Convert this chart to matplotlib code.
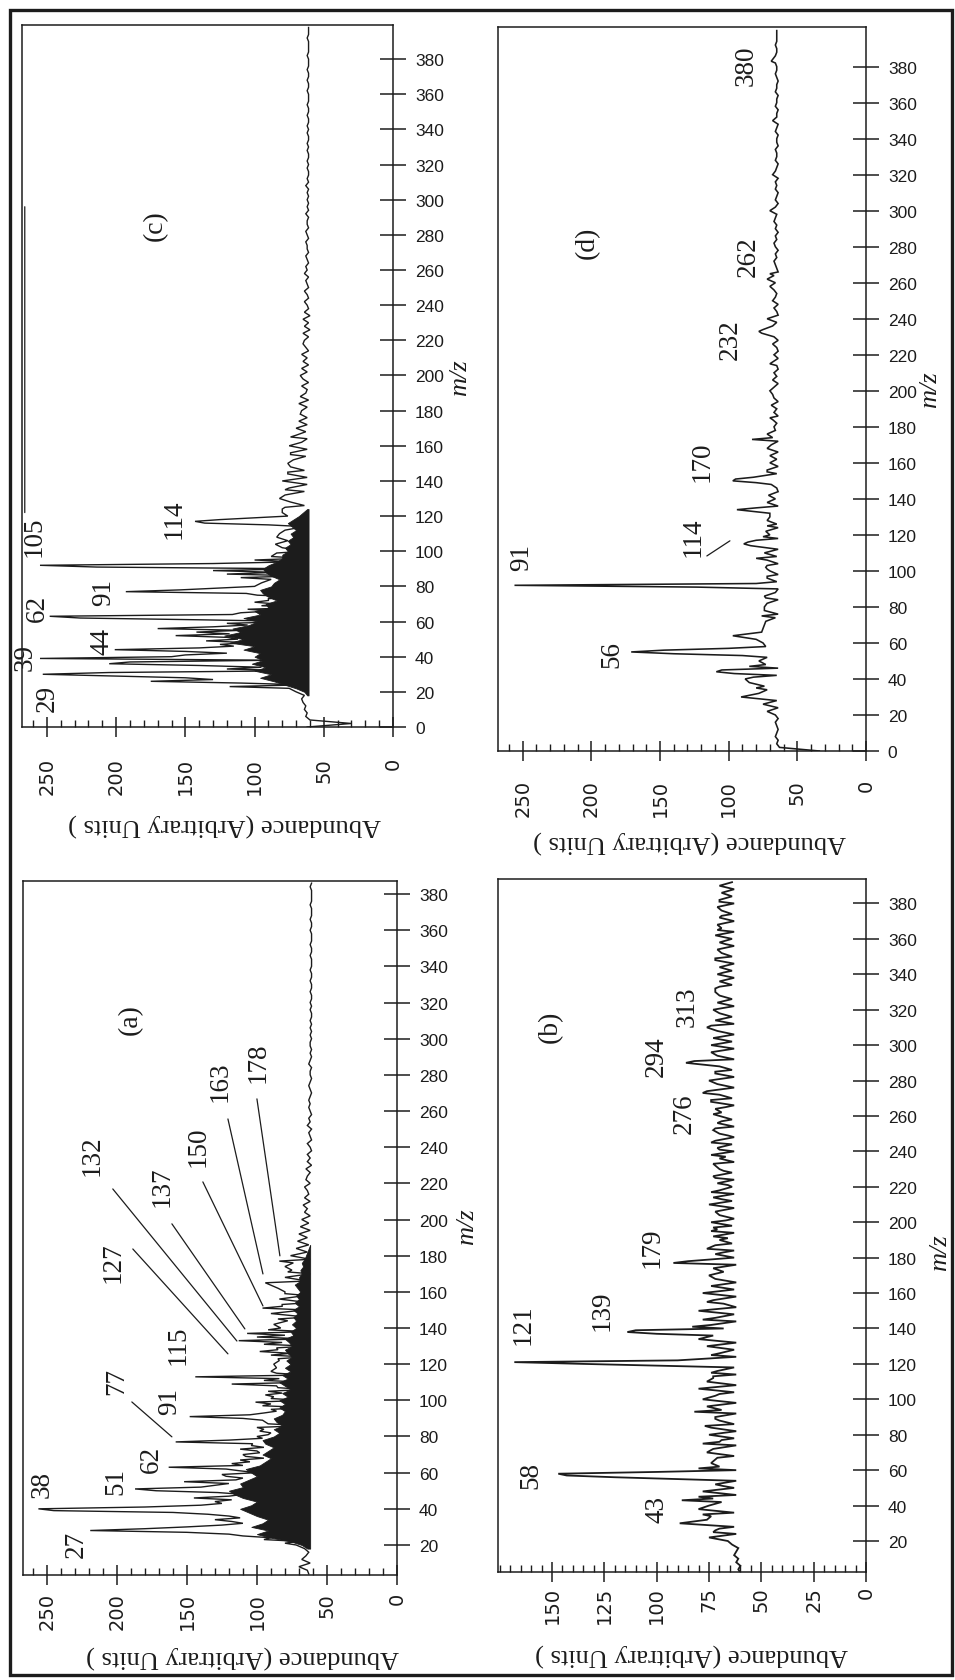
import numpy as np
import matplotlib
matplotlib.use("Agg")
import matplotlib.pyplot as plt
from matplotlib.ticker import MultipleLocator
from matplotlib.patches import Rectangle

# ---------------- data ----------------
# baseline (noise) abundances sampled every 2 m/z units
c_noise_start = 0
c_noise = [62, 30, 60, 63, 62, 64, 63, 65, 66, 64,
           70, 75, 64, 82, 66, 88, 70, 95, 68, 86, 64, 92, 70, 96, 66, 80, 62, 90, 70, 98,
           66, 92, 64, 88, 62, 84, 90, 66, 70, 88, 64, 80, 92, 66, 84, 64, 94, 70, 66, 86,
           64, 80, 62, 76, 84, 62, 78, 64, 82, 66, 76, 62, 80, 64, 74, 62, 78, 64, 75, 62,
           72, 62, 76, 64, 74, 62, 72, 63, 74, 62, 70, 66, 62, 70, 63, 72, 62, 68, 62, 67,
           66, 62, 68, 61, 67, 63, 62, 66, 61, 65, 67, 62, 66, 61, 65, 62, 66, 61, 63, 65,
           64, 61, 65, 60, 64, 61, 65, 60, 64, 61, 62, 64, 61, 62, 64, 61, 62, 63, 61, 64,
           62, 63, 61, 62, 63, 61, 62, 62, 63, 61, 62, 63, 61, 62, 62, 61, 63, 61, 62, 61,
           62, 61, 62, 61, 63, 61, 62, 61, 61, 62, 61, 62, 61, 61, 62, 61, 62, 61, 61, 62,
           61, 62, 61, 61, 62, 61, 61, 62, 61, 61, 61, 62, 61, 61, 62, 61, 61, 62, 61, 61,
           61, 62, 61, 61, 61, 61, 62, 61, 61, 61]
c_peak_mz = [23, 25, 26, 27, 28, 30, 31, 33, 35, 36, 37, 39, 40, 41, 42, 43, 44, 45, 46, 47, 48, 49,
             50, 51, 52, 53, 54, 55, 56, 57, 58, 59, 61, 62, 63, 64, 65, 67, 69, 71, 73, 75,
             76, 77, 78, 80, 82, 84, 85, 87, 89, 91, 92, 93, 95, 97, 99, 104, 107, 110,
             115, 116, 117, 118, 122, 125, 130, 135, 140, 145, 150, 155, 160, 165, 170]
c_peak_ab = [118, 110, 175, 130, 150, 253, 205, 120, 140, 205, 190, 255, 160, 150, 120, 150, 201, 140, 115, 125, 105, 135,
             112, 120, 157, 118, 142, 110, 170, 130, 105, 120, 140, 226, 248, 116, 110, 105, 95, 100, 90, 98,
             106, 193, 154, 100, 95, 88, 110, 120, 130, 214, 255, 130, 100, 88, 84, 85, 80, 82,
             90, 136, 143, 125, 80, 78, 82, 78, 80, 76, 76, 74, 75, 74, 70]
# envelope of the dense (unresolved) low-mass region, every 2 m/z units
c_env_start = 18
c_env = [62, 64, 70, 78, 86, 96, 88, 100, 92, 102, 94, 100, 96, 108, 100, 118, 108, 122, 110, 116,
         104, 98, 108, 96, 100, 90, 92, 84, 90, 94, 96, 88, 86, 82, 88, 92, 94, 90, 84, 80,
         80, 76, 78, 74, 76, 72, 74, 70, 73, 76, 72, 68, 65, 62]
c_floor = 61

a_noise_start = 4
a_noise = [63, 64, 70, 62, 68, 65, 63, 66, 72, 70,
           90, 70, 95, 72, 100, 75, 88, 105, 70, 110, 76, 100, 72, 98, 74, 105, 70, 95, 100, 72,
           95, 70, 100, 72, 92, 68, 98, 70, 90, 68, 95, 66, 88, 92, 66, 86, 64, 90, 68, 80,
           82, 66, 86, 64, 84, 66, 82, 88, 64, 84, 66, 76, 85, 64, 82, 66, 80, 64, 83, 66,
           78, 64, 80, 66, 82, 63, 78, 65, 80, 63, 76, 64, 79, 62, 75, 64, 74, 62, 73, 64,
           72, 63, 71, 64, 70, 62, 69, 63, 68, 62, 66, 64, 67, 62, 66, 63, 64, 66, 62, 65,
           64, 62, 65, 61, 64, 62, 64, 61, 62, 64, 61, 62, 63, 61, 64, 62, 63, 61, 62, 63,
           62, 63, 62, 61, 62, 63, 62, 61, 62, 62, 61, 63, 62, 61, 62, 61, 62, 62, 61, 62,
           61, 62, 61, 62, 61, 61, 62, 61, 62, 61, 61, 62, 61, 61, 62, 61, 61, 62, 61, 61,
           61, 62, 61, 61, 62, 61, 61, 61, 62, 61, 61, 62, 61, 61, 61, 62, 61, 61, 61, 61, 62, 61]
a_peak_mz = [21, 23, 25, 26, 27, 28, 29, 30, 31, 32, 33, 34, 35, 36, 37, 38, 39, 40, 41, 42, 43, 44, 45, 46, 47, 48, 49,
             50, 51, 52, 53, 54, 55, 56, 57, 58, 59, 60, 61, 62, 63, 64, 65, 66, 67, 68, 69, 70, 71, 72, 73, 74, 75,
             76, 77, 78, 79, 80, 81, 82, 83, 85, 87, 88, 89, 90, 91, 92, 93, 95, 97, 99, 101, 102, 103, 105, 107,
             109, 111, 113, 115, 116, 118, 120, 123, 125, 127, 129, 131, 133, 135, 137, 139,
             142, 145, 148, 151, 153, 156, 159, 162, 164, 165, 168, 171, 174, 177, 180]
a_peak_ab = [80, 95, 110, 120, 150, 219, 180, 150, 125, 110, 118, 130, 112, 120, 135, 160, 245, 256, 180, 140, 125, 130, 118, 145, 120, 110, 128,
             172, 187, 140, 130, 120, 152, 115, 110, 122, 125, 100, 112, 122, 163, 110, 118, 105, 112, 95, 108, 110, 98, 100, 112, 95, 104,
             103, 158, 120, 96, 100, 92, 90, 98, 100, 92, 94, 96, 110, 148, 105, 95, 90, 96, 101, 90, 88, 94, 92, 85,
             118, 95, 144, 86, 90, 86, 88, 85, 90, 98, 86, 95, 113, 100, 107, 92,
             88, 85, 90, 96, 82, 84, 80, 85, 91, 94, 80, 78, 80, 84, 76]
a_env_start = 18
a_env = [64, 68, 76, 90, 100, 92, 104, 96, 92, 100, 106, 112, 104, 100, 110, 116, 120, 110, 112, 106,
         100, 104, 108, 98, 94, 90, 96, 92, 88, 94, 96, 88, 84, 88, 82, 86, 88, 82, 80, 84,
         80, 84, 78, 82, 76, 80, 84, 78, 82, 76, 80, 76, 79, 75, 78, 80, 75, 77, 80, 74,
         76, 72, 75, 72, 74, 71, 74, 70, 73, 70, 72, 69, 71, 73, 69, 70, 68, 69, 67, 68,
         66, 65, 64, 63, 62]
a_floor = 62

d_noise_start = 0
d_noise = [34, 63, 65, 64, 66, 65, 64, 65, 66, 64,
           66, 72, 64, 73, 65, 75, 64, 72, 74, 64, 73, 65, 75, 64, 73, 65, 72, 75, 64, 73,
           72, 64, 74, 65, 75, 64, 73, 66, 64, 74, 65, 72, 64, 74, 66, 64, 73, 65, 72, 64,
           70, 73, 64, 72, 65, 73, 64, 75, 71, 64, 70, 73, 64, 65, 72, 64, 70, 72, 64, 70,
           66, 71, 64, 65, 69, 64, 70, 65, 72, 64, 68, 65, 70, 64, 66, 69, 64, 68, 65, 66,
           67, 65, 68, 64, 67, 65, 69, 64, 67, 68, 65, 67, 64, 68, 65, 67, 64, 65, 68, 64,
           67, 64, 65, 68, 64, 67, 65, 64, 68, 65, 67, 64, 65, 67, 64, 68, 66, 65, 67, 64,
           66, 65, 67, 64, 65, 66, 67, 65, 66, 64, 66, 67, 65, 66, 64, 66, 65, 67, 66, 65,
           65, 66, 64, 66, 65, 64, 66, 65, 66, 64, 65, 66, 65, 64, 66, 65, 65, 66, 64, 65,
           65, 64, 66, 65, 64, 66, 65, 65, 64, 66, 65, 65, 64, 66, 65, 65, 64, 65, 66, 65,
           65, 66, 65, 66, 65, 65, 66, 65, 65, 65, 65]
d_peak_mz = [26, 30, 32, 35, 38, 40, 41, 43, 44, 45, 47, 50, 53, 54, 55, 56, 57, 60, 62, 64, 66, 70, 75, 80, 85,
             91, 92, 93, 97, 101, 103, 107, 110, 114, 115, 116, 117, 119, 125, 130, 134, 135, 138,
             149, 150, 151, 152, 155, 160, 168, 173, 176, 185, 200, 215, 232, 233, 234, 240, 258, 262, 265,
             300, 320, 350, 383, 384]
d_peak_ab = [75, 91, 78, 80, 85, 88, 82, 96, 109, 105, 85, 78, 90, 140, 171, 147, 100, 75, 80, 97, 76, 74, 76, 74, 73,
             123, 256, 80, 72, 72, 72, 80, 74, 84, 89, 86, 80, 75, 72, 70, 94, 80, 72,
             80, 97, 95, 82, 72, 70, 72, 83, 72, 70, 70, 70, 76, 78, 75, 72, 70, 72, 70,
             70, 68, 68, 69, 68]
d_env_start = 20
d_env = []
d_floor = 63

b_noise_start = 2
b_noise = [60, 61, 60, 62, 61, 63, 62, 61, 64, 66,
           68, 62, 72, 63, 70, 62, 74, 63, 71, 62, 69, 73, 62, 70, 63, 72, 62, 68, 71, 62,
           70, 62, 72, 63, 68, 73, 62, 70, 63, 71, 62, 74, 63, 70, 72, 62, 69, 73, 62, 70,
           72, 63, 74, 62, 70, 73, 62, 71, 63, 69, 74, 62, 70, 63, 72, 62, 67, 73, 62, 68,
           74, 62, 72, 63, 75, 62, 68, 73, 62, 71, 63, 74, 62, 72, 64, 68, 73, 62, 71, 63,
           72, 63, 74, 64, 70, 73, 63, 71, 64, 74, 63, 70, 72, 63, 71, 64, 73, 63, 70, 64,
           71, 63, 73, 64, 70, 72, 63, 70, 74, 63, 71, 64, 72, 63, 70, 73, 63, 71, 64, 70,
           69, 72, 63, 74, 64, 70, 73, 63, 71, 75, 63, 72, 64, 70, 73, 63, 71, 74, 63, 72,
           64, 73, 63, 71, 76, 63, 72, 64, 70, 73, 63, 71, 64, 70, 63, 72, 64, 70, 63, 71,
           64, 70, 63, 72, 64, 69, 71, 63, 70, 64, 72, 63, 69, 71, 63, 70, 64, 69, 71, 63,
           70, 64, 69, 63, 70, 64]
b_peak_mz = [22, 25, 27, 30, 32, 35, 38, 40, 41, 43, 45, 48, 51, 56, 57, 58, 59, 61, 64, 67, 70, 75, 77, 80, 85, 89,
             93, 96, 100, 103, 106, 110, 113, 115, 120, 121, 122, 125, 130, 134, 137, 138, 139, 141, 145, 150, 155, 160,
             170, 177, 178, 183, 185, 187, 191, 195, 197, 201, 205, 210, 213, 217, 221, 225, 229, 233, 237, 241,
             245, 249, 253, 257, 261, 265, 269, 273, 274, 285, 290, 291, 300, 310, 311, 330,
             333, 341, 349, 357, 365, 373, 381]
b_peak_ab = [75, 73, 70, 89, 76, 78, 80, 75, 72, 88, 80, 78, 68, 120, 143, 147, 100, 80, 74, 71, 76, 78, 69, 75, 77, 72,
             82, 76, 78, 70, 80, 76, 73, 74, 135, 168, 90, 74, 76, 80, 100, 114, 110, 83, 78, 80, 76, 78,
             75, 92, 85, 68, 76, 72, 66, 74, 73, 67, 71, 75, 69, 74, 66, 72, 68, 73, 67, 70,
             74, 66, 72, 69, 73, 67, 74, 78, 76, 72, 86, 82, 74, 76, 74, 72,
             70, 68, 72, 67, 71, 69, 70]
b_env_start = 20
b_env = []
b_floor = 64

# peak labels: (text, abundance, m/z)
c_labels = [("29", 250, 17), ("39", 266, 40), ("62", 257, 68), ("105", 259, 109),
            ("44", 210, 49), ("91", 209, 77), ("114", 158, 118.5)]
a_labels = [("27", 229, 21), ("38", 253, 54), ("51", 201, 55.5), ("62", 175, 67.6),
            ("77", 200, 111), ("91", 162, 100), ("115", 156, 131), ("127", 203, 176.5),
            ("132", 218, 236), ("137", 168, 218.6), ("150", 142, 240.7), ("163", 126, 277),
            ("178", 99, 287)]
d_labels = [("91", 251, 108), ("56", 185, 54), ("114", 126, 119.4), ("170", 119.5, 161),
            ("232", 99, 229), ("262", 86, 275), ("380", 87.5, 381)]
b_labels = [("121", 164, 142.6), ("139", 126, 150.5), ("58", 160, 57.8), ("43", 100, 38.6),
            ("179", 102, 186), ("276", 87, 262), ("294", 100, 294), ("313", 85.5, 322)]

# leader lines: (start abundance, start m/z, end abundance, end m/z)
a_leaders = [(188.6, 183.7, 120.7, 125.7), (202.9, 216.9, 114.3, 132.8),
             (160.7, 197.6, 108.6, 139.5), (138.6, 220.8, 95.7, 152.2),
             (120.7, 255.6, 95.7, 169.9), (100.0, 266.7, 83.6, 179.9),
             (189.3, 99.1, 160.7, 79.8)]
d_leaders = [(115.9, 108.3, 99.1, 116.7)]
c_leaders = [(266.0, 122.0, 266.0, 296.0)]

panel_names = ["(c)", "(a)", "(d)", "(b)"]
panel_name_pos = [(172, 286), (190, 311), (203, 283), (151, 311)]
mz_ticks = list(range(0, 381, 20))
ylabel_text = "Abundance (Arbitrary Units )"
xlabel_text = "m/z"

# ---------------- figure ----------------
W, H = 955, 1681
DPI = 100
fig = plt.figure(figsize=(W / DPI, H / DPI), dpi=DPI)
fig.patch.set_facecolor("white")
INK = "#1c1c1c"
SERIF = ["Liberation Serif", "DejaVu Serif"]


def px_axes(left, top, right, bottom):
    return fig.add_axes([left / W, 1 - bottom / H, (right - left) / W, (bottom - top) / H])


def fig_text(x, y, s, **kw):
    fig.text(x / W, 1 - y / H, s, **kw)


def combine(start, vals, pmz, pab):
    d = {start + 2 * i: v for i, v in enumerate(vals)}
    for m, a in zip(pmz, pab):
        d[m] = a
    mz = sorted(d)
    return [d[m] for m in mz], mz


def panel(box, xlim, ylim, xmaj, xmin, xtmax, xpad, noise_start, noise, pmz, pab,
          env_start, env, floor, labels, leaders, name, name_pos, lw=0.9):
    ax = px_axes(*box)
    if len(env):
        env_mz = [env_start + 2 * i for i in range(len(env))]
        ax.fill_betweenx(env_mz, floor, env, color=INK, lw=0.6, edgecolor=INK)
    ab, mz = combine(noise_start, noise, pmz, pab)
    ax.plot(ab, mz, color=INK, lw=lw, solid_joinstyle="miter")
    ax.set_xlim(*xlim)
    ax.set_ylim(*ylim)
    for s in ax.spines.values():
        s.set_linewidth(1.1)
        s.set_color(INK)
    # m/z axis on right
    ax.yaxis.tick_right()
    ax.set_yticks([t for t in mz_ticks if ylim[0] - 0.5 <= t <= ylim[1]])
    ax.tick_params(axis="y", which="major", direction="inout", length=18.5, width=1.1,
                   pad=6.5, labelsize=12.5, colors=INK, left=False, right=True)
    for t in ax.get_yticklabels():
        t.set_family(["Liberation Sans", "DejaVu Sans"])
    # abundance axis
    ax.set_xticks(list(range(0, xtmax + 1, xmaj)))
    ax.xaxis.set_minor_locator(MultipleLocator(xmin))
    ax.tick_params(axis="x", which="major", direction="inout", length=14.4, width=1.1,
                   pad=xpad, labelsize=14, labelrotation=90, colors=INK, top=False)
    ax.tick_params(axis="x", which="minor", direction="in", length=5, width=1.0,
                   colors=INK, top=False)
    for t in ax.get_xticklabels():
        t.set_family(["DejaVu Sans"])
    for txt, xa, ym in labels:
        ax.text(xa, ym, txt, rotation=90, ha="center", va="center", fontsize=19.5,
                family=SERIF, color=INK)
    for xa0, ym0, xa1, ym1 in leaders:
        ax.annotate("", xy=(xa1, ym1), xytext=(xa0, ym0),
                    arrowprops=dict(arrowstyle="-", lw=0.9, color=INK, shrinkA=0, shrinkB=0))
    ax.text(name_pos[0], name_pos[1], name, rotation=90, ha="center", va="center",
            fontsize=20, family=SERIF, color=INK)
    return ax


panel((22, 26, 393, 728), (268, 0), (0, 399.4), 50, 10, 250, 14.4,
      c_noise_start, c_noise, c_peak_mz, c_peak_ab, c_env_start, c_env, c_floor,
      c_labels, c_leaders, panel_names[0], panel_name_pos[0], lw=1.0)
panel((23, 882, 397, 1576), (267, 0), (3.4, 387.2), 50, 10, 250, 5,
      a_noise_start, a_noise, a_peak_mz, a_peak_ab, a_env_start, a_env, a_floor,
      a_labels, a_leaders, panel_names[1], panel_name_pos[1], lw=1.0)
panel((498, 28, 866, 752), (268, 0), (0, 402), 50, 10, 250, 13,
      d_noise_start, d_noise, d_peak_mz, d_peak_ab, d_env_start, d_env, d_floor,
      d_labels, d_leaders, panel_names[2], panel_name_pos[2], lw=1.15)
panel((498, 880, 866, 1573), (175.8, 0), (2.5, 393.8), 25, 5, 150, 3,
      b_noise_start, b_noise, b_peak_mz, b_peak_ab, b_env_start, b_env, b_floor,
      b_labels, [], panel_names[3], panel_name_pos[3], lw=1.3)

# axis titles
for (x, y) in [(225, 825), (243, 1657), (690, 842), (692, 1655)]:
    fig_text(x, y, ylabel_text, rotation=180, ha="center", va="center", fontsize=19,
             family=SERIF, color=INK)
for (x, y) in [(460, 378), (467, 1227), (930, 390), (940, 1253)]:
    fig_text(x, y, xlabel_text, rotation=90, ha="center", va="center", fontsize=19,
             family=SERIF, style="italic", color=INK)

# outer frame
fig.patches.append(Rectangle((10 / W, 1 - 1676 / H), (952 - 10) / W, (1676 - 11) / H,
                             transform=fig.transFigure, fill=False, lw=2.4, edgecolor=INK))

fig.savefig("out.png", dpi=DPI, facecolor="white")
